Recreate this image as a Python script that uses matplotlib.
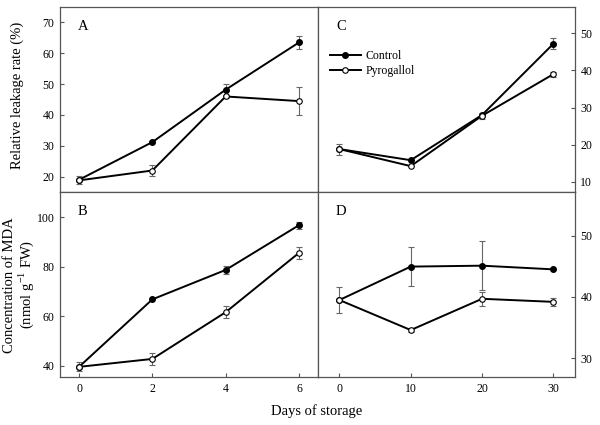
import matplotlib
matplotlib.use('Agg')
import matplotlib.pyplot as plt
from matplotlib.lines import Line2D

plt.rcParams['font.family'] = ['Liberation Serif', 'DejaVu Serif']
plt.rcParams['mathtext.fontset'] = 'custom'
plt.rcParams['mathtext.rm'] = 'Liberation Serif'

##data
days_short = [0, 2, 4, 6]
days_long = [0, 10, 20, 30]

a_control = [19.0, 31.2, 48.2, 63.5]
a_control_err = [0.0, 0.0, 2.0, 2.2]
a_pyro = [18.8, 22.0, 46.0, 44.5]
a_pyro_err = [1.3, 1.7, 0.5, 4.5]

c_control = [18.8, 15.8, 28.0, 47.2]
c_control_err = [0.0, 0.0, 0.0, 1.5]
c_pyro = [18.8, 14.2, 27.8, 39.0]
c_pyro_err = [1.5, 0.0, 0.8, 0.7]

b_control = [39.5, 66.8, 78.7, 96.8]
b_control_err = [0.0, 0.0, 1.8, 1.5]
b_pyro = [39.5, 42.7, 61.6, 85.6]
b_pyro_err = [1.8, 2.5, 2.5, 2.5]

d_control = [39.5, 44.95, 45.1, 44.5]
d_control_err = [0.0, 3.15, 4.0, 0.0]
d_pyro = [39.5, 34.6, 39.7, 39.2]
d_pyro_err = [2.1, 0.3, 1.1, 0.7]

spine_color = '#555555'
err_color = '#666666'


def draw_panel(ax, x, ctrl, ctrl_err, pyro, pyro_err):
    '''draws the two series with error bars'''
    ax.errorbar(x, ctrl, yerr=ctrl_err, color='black', ecolor=err_color,
                elinewidth=0.8, capsize=2.5, capthick=0.8, lw=1.4,
                marker='o', markersize=4, mfc='black', mec='black', zorder=3)
    ax.errorbar(x, pyro, yerr=pyro_err, color='black', ecolor=err_color,
                elinewidth=0.8, capsize=2.5, capthick=0.8, lw=1.4,
                marker='o', markersize=4, mfc='white', mec='black', mew=0.8,
                zorder=3)
    for spine in ax.spines.values():
        spine.set_edgecolor(spine_color)
        spine.set_linewidth(0.9)
    ax.tick_params(direction='in', length=3, width=0.8, color=spine_color,
                   labelsize=8.5, pad=4)


fig = plt.figure(figsize=(6, 4.25), dpi=100)
ax_a = fig.add_axes([0.1, 0.548, 0.43, 0.4355])
ax_c = fig.add_axes([0.53, 0.548, 0.428, 0.4355])
ax_b = fig.add_axes([0.1, 0.113, 0.43, 0.435])
ax_d = fig.add_axes([0.53, 0.113, 0.428, 0.435])

draw_panel(ax_a, days_short, a_control, a_control_err, a_pyro, a_pyro_err)
draw_panel(ax_c, days_long, c_control, c_control_err, c_pyro, c_pyro_err)
draw_panel(ax_b, days_short, b_control, b_control_err, b_pyro, b_pyro_err)
draw_panel(ax_d, days_long, d_control, d_control_err, d_pyro, d_pyro_err)

##limits and ticks
ax_a.set_xlim(-0.52, 6.52)
ax_b.set_xlim(-0.52, 6.52)
ax_c.set_xlim(-3, 33)
ax_d.set_xlim(-3, 33)
ax_a.set_ylim(15, 75)
ax_b.set_ylim(35.4, 110.2)
ax_c.set_ylim(7.2, 57.1)
ax_d.set_ylim(26.95, 57.1)

ax_a.set_yticks([20, 30, 40, 50, 60, 70])
ax_b.set_yticks([40, 60, 80, 100])
ax_c.set_yticks([10, 20, 30, 40, 50])
ax_d.set_yticks([30, 40, 50])
ax_b.set_xticks(days_short)
ax_d.set_xticks(days_long)

for ax in (ax_a, ax_c):
    ax.tick_params(axis='x', bottom=False, labelbottom=False)
for ax in (ax_c, ax_d):
    ax.yaxis.tick_right()
    ax.tick_params(axis='y', direction='in', length=3, color=spine_color)

##panel letters
for ax, letter in zip((ax_a, ax_b, ax_c, ax_d), 'ABCD'):
    ax.text(0.07, 0.93, letter, transform=ax.transAxes, fontsize=10.5,
            va='top', ha='left')

##legend (line + marker only, no error bars)
handles = [Line2D([], [], color='black', lw=1.4, marker='o', markersize=4,
                  mfc='black', mec='black'),
           Line2D([], [], color='black', lw=1.4, marker='o', markersize=4,
                  mfc='white', mec='black', mew=0.8)]
ax_c.legend(handles, ['Control', 'Pyrogallol'], loc='upper left',
            bbox_to_anchor=(0.0, 0.83), frameon=False, fontsize=8.5,
            handlelength=2.6, handletextpad=0.4, labelspacing=0.2,
            borderaxespad=0.6)

##axis labels
fig.text(0.028, 0.775, 'Relative leakage rate (%)', rotation=90,
         ha='center', va='center', fontsize=10.5)
fig.text(0.033, 0.33, 'Concentration of MDA\n(nmol g$^{-1}$ FW)', rotation=90,
         ha='center', va='center', fontsize=10.5, linespacing=1.0,
         multialignment='center')
fig.text(0.528, 0.033, 'Days of storage', ha='center', va='center',
         fontsize=10.5)

plt.savefig('out.png', dpi=100)
